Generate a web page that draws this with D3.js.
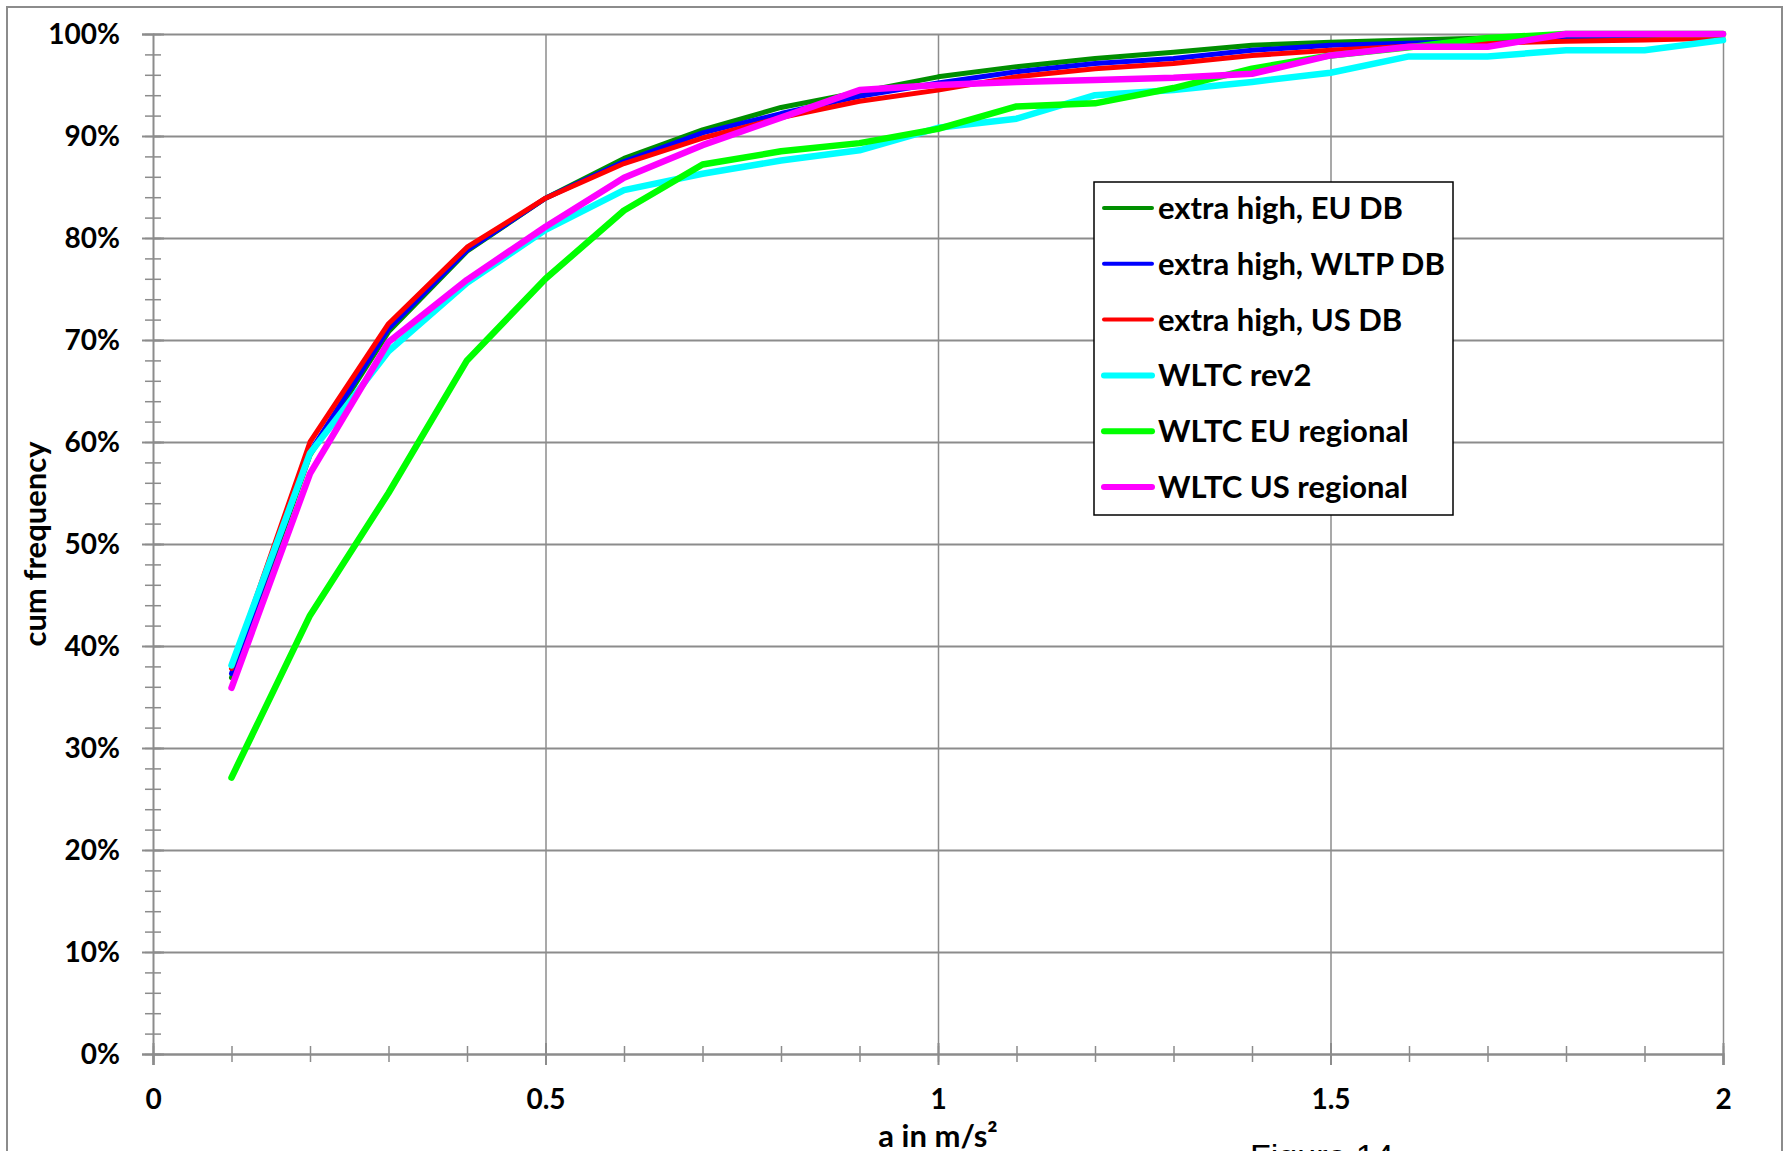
<!DOCTYPE html>
<html>
<head>
<meta charset="utf-8">
<script src="https://cdn.jsdelivr.net/npm/d3@7"></script>
<style>
  body { margin: 0; background: #fff; }
  svg { display: block; }
  .lbl { font-family: Lato, "Open Sans", sans-serif; font-weight: bold; font-size: 28px; fill: #000; }
  .ttl { font-family: Lato, "Open Sans", sans-serif; font-weight: bold; font-size: 31px; fill: #000; }
</style>
</head>
<body>
<svg id="chart" width="1791" height="1151"></svg>
<script>
// acceleration classes (m/s²)
var accel = [0.1, 0.2, 0.3, 0.4, 0.5, 0.6, 0.7, 0.8, 0.9, 1.0,
             1.1, 1.2, 1.3, 1.4, 1.5, 1.6, 1.7, 1.8, 1.9, 2.0];

// cumulative frequency in %
var extraHighEU   = [36.9, 58.7, 70.8, 78.7, 83.9, 87.8, 90.6, 92.8, 94.3, 95.8, 96.8, 97.6, 98.2, 98.9, 99.2, 99.4, 99.6, 99.8, 99.9, 100];
var extraHighWLTP = [37.3, 59.0, 71.1, 78.8, 83.9, 87.5, 90.3, 92.2, 93.9, 95.2, 96.3, 97.1, 97.6, 98.4, 98.9, 99.1, 99.3, 99.6, 99.7, 99.9];
var extraHighUS   = [37.8, 60.0, 71.6, 79.1, 83.9, 87.3, 89.8, 91.8, 93.4, 94.5, 95.8, 96.6, 97.1, 97.9, 98.4, 98.8, 99.1, 99.3, 99.4, 99.6];
var wltcRev2      = [38.1, 58.9, 68.9, 75.6, 80.8, 84.7, 86.3, 87.6, 88.6, 90.8, 91.7, 94.0, 94.5, 95.3, 96.2, 97.8, 97.8, 98.4, 98.4, 99.4];
var wltcEU        = [27.1, 43.0, 55.0, 68.0, 76.0, 82.7, 87.2, 88.5, 89.3, 90.7, 92.9, 93.2, 94.7, 96.6, 97.9, 98.7, 99.6, 100, 100, 100];
var wltcUS        = [35.9, 56.9, 69.8, 75.9, 81.1, 85.9, 89.1, 91.8, 94.5, 95.0, 95.3, 95.5, 95.7, 96.1, 97.9, 98.75, 98.75, 100, 100, 100];

var seriesNames = ["extra high, EU DB", "extra high, WLTP DB", "extra high, US DB",
                   "WLTC rev2", "WLTC EU regional", "WLTC US regional"];
var seriesValues = [extraHighEU, extraHighWLTP, extraHighUS, wltcRev2, wltcEU, wltcUS];
var seriesColors = ["#008f00", "#0000ff", "#ff0000", "#00ffff", "#00ff00", "#ff00ff"];
var seriesWidths = [5, 5, 5, 6.5, 6.5, 6.5];

var yTicks = [0, 10, 20, 30, 40, 50, 60, 70, 80, 90, 100];
var xTicks = [0, 0.5, 1, 1.5, 2];

var svg = d3.select("#chart"),
    margin = { top: 34, right: 68, bottom: 97, left: 153 },
    width = 1791 - margin.left - margin.right,
    height = 1151 - margin.top - margin.bottom,
    grid = "#8c8c8c";

// outer chart border (runs off the bottom of the picture)
svg.append("rect")
    .attr("x", 7).attr("y", 7)
    .attr("width", 1775).attr("height", 1250)
    .attr("fill", "none").attr("stroke", grid).attr("stroke-width", 2);

var g = svg.append("g").attr("transform", "translate(" + margin.left + "," + margin.top + ")");

var x = d3.scaleLinear().domain([0, 2]).range([0, width]);
var y = d3.scaleLinear().domain([0, 100]).range([height, 0]);

// grid lines
g.append("g")
    .call(d3.axisLeft(y).tickValues(yTicks.slice(1)).tickSize(-width).tickFormat(""))
    .call(function (s) {
        s.select(".domain").remove();
        s.selectAll("line").attr("stroke", grid).attr("stroke-width", 2);
    });
g.append("g")
    .call(d3.axisBottom(x).tickValues(xTicks.slice(1)).tickSize(height).tickFormat(""))
    .call(function (s) {
        s.select(".domain").remove();
        s.selectAll("line").attr("stroke", grid).attr("stroke-width", 1.5);
    });

// minor ticks (crossing the axes)
g.append("g")
    .call(d3.axisLeft(y).ticks(50).tickSize(8).tickFormat(""))
    .call(function (s) {
        s.select(".domain").remove();
        s.selectAll("line").attr("x1", 8).attr("stroke", grid).attr("stroke-width", 1.5);
    });
g.append("g")
    .attr("transform", "translate(0," + height + ")")
    .call(d3.axisBottom(x).ticks(20).tickSize(8).tickFormat(""))
    .call(function (s) {
        s.select(".domain").remove();
        s.selectAll("line").attr("y1", -8).attr("stroke", grid).attr("stroke-width", 1.5);
    });

// y axis
g.append("g")
    .call(d3.axisLeft(y).tickValues(yTicks).tickSize(11).tickPadding(22)
        .tickFormat(function (d) { return d + "%"; }))
    .call(function (s) {
        s.select(".domain").attr("stroke", grid).attr("stroke-width", 2);
        s.selectAll(".tick line").attr("x1", 11).attr("stroke", grid).attr("stroke-width", 2);
        s.selectAll(".tick text").attr("class", "lbl").attr("dy", "0.34em");
    });

// x axis
g.append("g")
    .attr("transform", "translate(0," + height + ")")
    .call(d3.axisBottom(x).tickValues(xTicks).tickSize(11).tickPadding(24)
        .tickFormat(d3.format("")))
    .call(function (s) {
        s.select(".domain").attr("stroke", grid).attr("stroke-width", 2.5);
        s.selectAll(".tick line").attr("y1", -11).attr("stroke", grid).attr("stroke-width", 2);
        s.selectAll(".tick text").attr("class", "lbl").attr("dy", "0.71em");
    });

// lines
var line = d3.line()
    .x(function (d) { return x(d[0]); })
    .y(function (d) { return y(d[1]); });

seriesValues.forEach(function (vals, i) {
    g.append("path")
        .datum(accel.map(function (a, j) { return [a, vals[j]]; }))
        .attr("fill", "none")
        .attr("stroke", seriesColors[i])
        .attr("stroke-width", seriesWidths[i])
        .attr("stroke-linejoin", "round")
        .attr("stroke-linecap", "round")
        .attr("d", line);
});

// axis titles
svg.append("text")
    .attr("class", "ttl")
    .attr("transform", "translate(46," + (margin.top + height / 2) + ") rotate(-90)")
    .attr("text-anchor", "middle")
    .text("cum frequency");

svg.append("text")
    .attr("class", "ttl")
    .attr("x", margin.left + x(1))
    .attr("y", 1147)
    .attr("text-anchor", "middle")
    .text("a in m/s²");

// legend
var legend = svg.append("g").attr("transform", "translate(1094,182)");
legend.append("rect")
    .attr("width", 359).attr("height", 333)
    .attr("fill", "#fff").attr("stroke", "#000").attr("stroke-width", 1.5);

var item = legend.selectAll(".item")
    .data(seriesNames)
    .enter().append("g")
    .attr("transform", function (d, i) { return "translate(0," + (26 + i * 55.8) + ")"; });

item.append("line")
    .attr("x1", 10).attr("x2", 58)
    .attr("stroke", function (d, i) { return seriesColors[i]; })
    .attr("stroke-width", function (d, i) { return i < 3 ? 4 : 6; })
    .attr("stroke-linecap", "round");

item.append("text")
    .attr("class", "ttl")
    .attr("x", 64)
    .attr("y", 11)
    .text(function (d) { return d; });

// caption below the chart, cut off by the picture edge
svg.append("text")
    .attr("x", 1250)
    .attr("y", 1168)
    .attr("font-family", "'Liberation Sans', Arial, sans-serif")
    .attr("font-size", 34)
    .text("Figure 14");
</script>
</body>
</html>
